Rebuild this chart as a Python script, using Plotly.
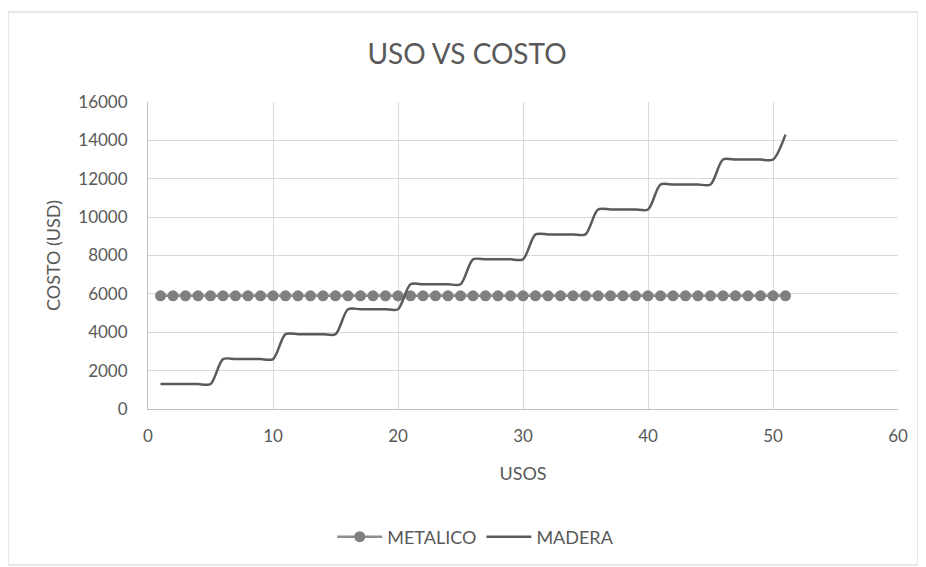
import plotly.graph_objects as go

usos = list(range(1, 52))
metalico = [5900] * 51
madera = [1300, 1300, 1300, 1300, 1300,
          2600, 2600, 2600, 2600, 2600,
          3900, 3900, 3900, 3900, 3900,
          5200, 5200, 5200, 5200, 5200,
          6500, 6500, 6500, 6500, 6500,
          7800, 7800, 7800, 7800, 7800,
          9100, 9100, 9100, 9100, 9100,
          10400, 10400, 10400, 10400, 10400,
          11700, 11700, 11700, 11700, 11700,
          13000, 13000, 13000, 13000, 13000,
          14300]

FONT = "Lato, Open Sans, sans-serif"
GRAY = "#595959"

fig = go.Figure()
fig.add_trace(go.Scatter(
    x=usos, y=metalico, name="METALICO", mode="lines+markers",
    line=dict(color="#8c8c8c", width=2.5),
    marker=dict(color="#7f7f7f", size=11, line=dict(color="#7f7f7f", width=0)),
))
fig.add_trace(go.Scatter(
    x=usos, y=madera, name="MADERA", mode="lines",
    line=dict(color="#5a5a5a", width=2.5, shape="spline", smoothing=0.8),
))

fig.update_layout(
    width=918, height=559,
    margin=dict(l=140, r=28, t=94, b=158),
    paper_bgcolor="white", plot_bgcolor="white",
    font=dict(family=FONT, color=GRAY, size=17),
    title=dict(text="USO VS COSTO", x=0.5, xanchor="center", y=0.917, yanchor="middle",
               font=dict(size=28, color=GRAY, family=FONT)),
    showlegend=True,
    legend=dict(orientation="h", x=0.437, xanchor="center", y=-0.417, yanchor="middle",
                font=dict(size=18, color=GRAY), traceorder="normal",
                itemwidth=45),
    xaxis=dict(range=[0, 60], dtick=10, showgrid=True, gridcolor="#d9d9d9", gridwidth=1,
               zeroline=False, showline=True, linecolor="#bfbfbf", linewidth=1,
               ticks="", ticklabelstandoff=12, tickformat="d",
               tickfont=dict(size=17, color=GRAY),
               title=dict(text="USOS", standoff=21, font=dict(size=18, color=GRAY))),
    yaxis=dict(range=[0, 16000], dtick=2000, showgrid=True, gridcolor="#d9d9d9", gridwidth=1,
               zeroline=False, showline=True, linecolor="#bfbfbf", linewidth=1,
               ticks="", ticklabelstandoff=16, tickformat="d",
               tickfont=dict(size=17, color=GRAY),
               title=dict(text="COSTO (USD)", standoff=12, font=dict(size=18, color=GRAY))),
)
fig.add_shape(type="rect", xref="paper", yref="paper",
              x0=-0.1867, x1=1.0267, y0=-0.508, y1=1.2932,
              line=dict(color="#d0d0d0", width=1), layer="below")

fig.write_html("out.html")
